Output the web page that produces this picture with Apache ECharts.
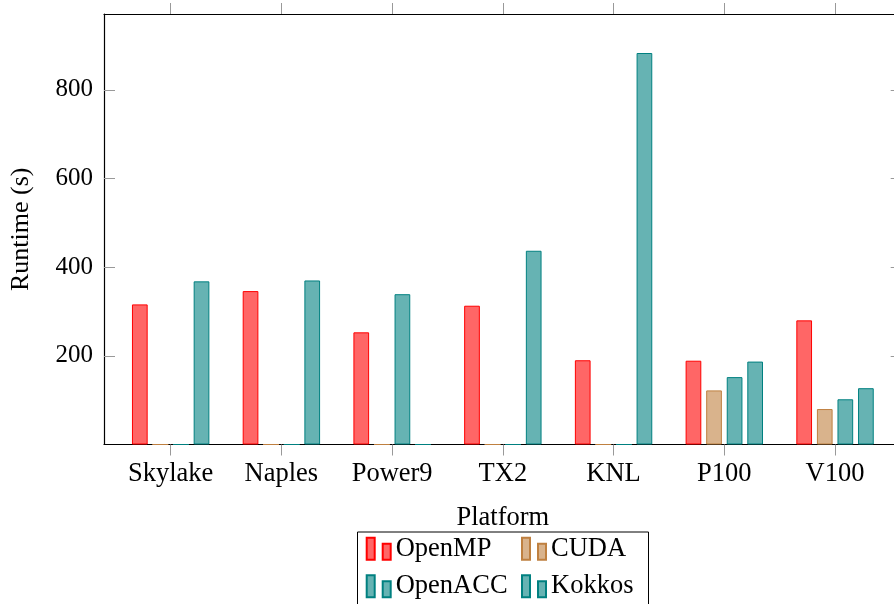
<!DOCTYPE html>
<html>
<head>
<meta charset="utf-8">
<script src="https://cdn.jsdelivr.net/npm/echarts@6/dist/echarts.min.js"></script>
<style>
html,body{margin:0;padding:0;background:#fff;}
#chart{width:894px;height:604px;}
</style>
</head>
<body>
<div id="chart"></div>
<script>
const platforms = ['Skylake','Naples','Power9','TX2','KNL','P100','V100'];
const openmp  = [316, 346, 253, 313, 190, 189, 280];
const cuda    = [0, 0, 0, 0, 0, 122, 80];
const openacc = [0, 0, 339, 0, 0, 152, 102];
const kokkos  = [368, 370, 0, 437, 883, 187, 127];
const yTicks = [200, 400, 600, 800];
const seriesNames = ['OpenMP','CUDA','OpenACC','Kokkos'];

const FONT = '"Liberation Serif", "Times New Roman", serif';
const fills = ['#ff6666', '#d9b38c', '#66b3b3', '#66b3b3'];
const strokes = ['#ff0000', '#bf8040', '#008080', '#008080'];
const allData = [openmp, cuda, openacc, kokkos];
const idx = platforms.map((p, i) => i);
const iconPath = 'path://M0,0h8v22h-8z M16,6h8v16h-8z';

const xMin = -0.602, xMax = 6.602, yMax = 971;

const chart = echarts.init(document.getElementById('chart'), null, {renderer: 'canvas'});
chart.setOption({
  animation: false,
  backgroundColor: '#fff',
  textStyle: {fontFamily: FONT},
  grid: {left: 104, right: -7.7, top: 14, bottom: 159.5, containLabel: false, outerBoundsMode: 'none'},
  xAxis: [{
    type: 'value', min: xMin, max: xMax, position: 'bottom',
    name: 'Platform', nameLocation: 'middle', nameGap: 60,
    nameTextStyle: {fontFamily: FONT, fontSize: 26.5, color: '#000'},
    axisLine: {show: true, onZero: false, lineStyle: {color: '#000', width: 1.2}},
    axisTick: {show: true, inside: false, length: 11, customValues: idx, lineStyle: {color: '#999', width: 1}},
    axisLabel: {show: true, customValues: idx, margin: 16, fontFamily: FONT, fontSize: 26.5, color: '#000',
      formatter: v => platforms[Math.round(v)]},
    splitLine: {show: false}
  }, {
    type: 'value', min: xMin, max: xMax, position: 'top',
    axisLine: {show: true, onZero: false, lineStyle: {color: '#000', width: 1.2}},
    axisTick: {show: true, inside: false, length: 11, customValues: idx, lineStyle: {color: '#999', width: 1}},
    axisLabel: {show: false},
    splitLine: {show: false}
  }],
  yAxis: [{
    type: 'value', min: 0, max: yMax, position: 'left',
    name: 'Runtime (s)', nameLocation: 'middle', nameGap: 70, nameRotate: 90,
    nameTextStyle: {fontFamily: FONT, fontSize: 26, color: '#000'},
    axisLine: {show: true, onZero: false, lineStyle: {color: '#000', width: 1.2}},
    axisTick: {show: true, inside: true, length: 11, customValues: yTicks, lineStyle: {color: '#999', width: 1}},
    axisLabel: {show: true, customValues: yTicks, margin: 11, fontFamily: FONT, fontSize: 25, color: '#000'},
    splitLine: {show: false}
  }, {
    type: 'value', min: 0, max: yMax, position: 'right',
    axisLine: {show: true, onZero: false, lineStyle: {color: '#000', width: 1.2}},
    axisTick: {show: true, inside: true, length: 11, customValues: yTicks, lineStyle: {color: '#999', width: 1}},
    axisLabel: {show: false},
    splitLine: {show: false}
  }],
  legend: [{
    orient: 'vertical', left: 365.7, top: 535.2, padding: 0,
    data: ['OpenMP', 'OpenACC'],
    icon: iconPath, itemWidth: 24, itemHeight: 22, itemGap: 10.5,
    selectedMode: false,
    textStyle: {fontFamily: FONT, fontSize: 26.5, color: '#000', lineHeight: 25}
  }, {
    orient: 'vertical', left: 521, top: 535.2, padding: 0,
    data: ['CUDA', 'Kokkos'],
    icon: iconPath, itemWidth: 24, itemHeight: 22, itemGap: 10.5,
    selectedMode: false,
    textStyle: {fontFamily: FONT, fontSize: 26.5, color: '#000', lineHeight: 25}
  }],
  graphic: [{
    type: 'rect', left: 357, top: 531.5, z: -1,
    shape: {width: 291, height: 100},
    style: {fill: '#fff', stroke: '#000', lineWidth: 1}
  }],
  series: seriesNames.map((name, s) => ({
    name: name, type: 'bar',
    xAxisIndex: 0, yAxisIndex: 0,
    barWidth: 15.7, barGap: '31%',
    itemStyle: {color: fills[s], borderColor: strokes[s], borderWidth: 1},
    data: idx.map(i => [i, allData[s][i]])
  }))
});
</script>
</body>
</html>
